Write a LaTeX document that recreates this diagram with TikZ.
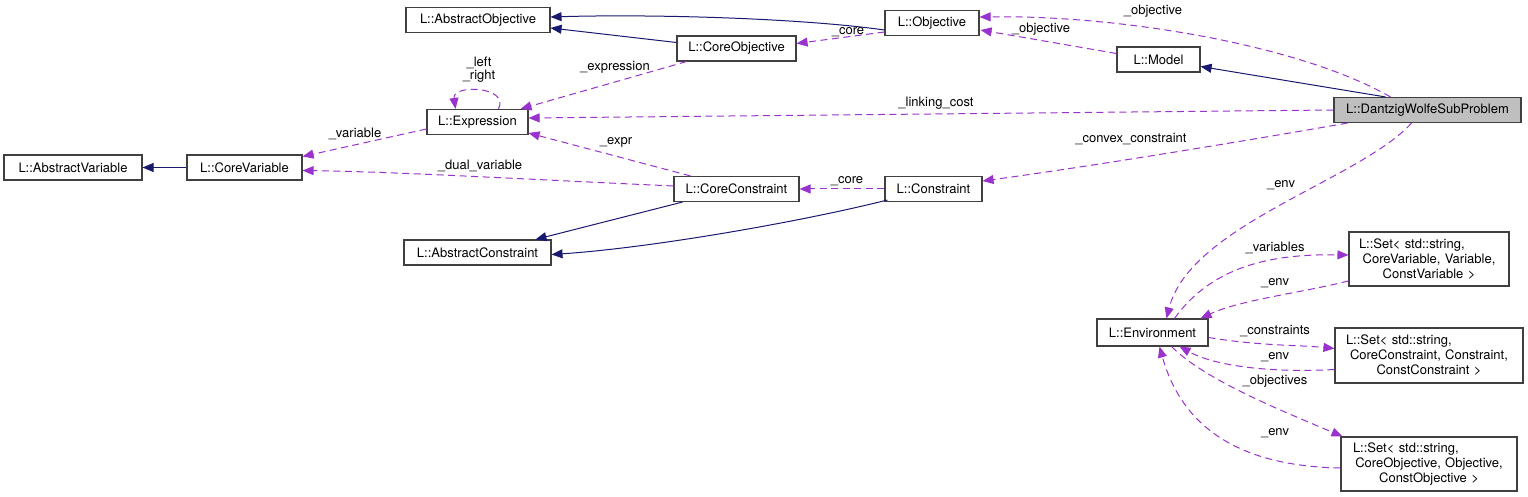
\documentclass[tikz,border=0pt]{standalone}
\usepackage{fontspec}
\setmainfont{TeX Gyre Heros}
\usetikzlibrary{arrows.meta,calc}
\definecolor{inhcol}{HTML}{191970}
\definecolor{usecol}{HTML}{9A32CD}
\definecolor{boxline}{HTML}{404040}
\begin{document}
\begin{tikzpicture}[x=1pt,y=-1pt,
  font=\fontsize{13}{15}\selectfont,
  cls/.style={draw=boxline,line width=1.1pt,fill=white,inner sep=2pt,minimum height=25pt,anchor=center},
  inh/.style={draw=inhcol,line width=1pt,-{Triangle[length=11pt,width=9pt]}},
  use/.style={draw=usecol,line width=1pt,dash pattern=on 7pt off 4.5pt,-{Triangle[length=11pt,width=9pt]}},
  lbl/.style={inner sep=0pt,text=black,align=center}]
\useasboundingbox (0,0) rectangle (1528,497);
% nodes
\node[cls,minimum width=144pt] (absobj) at (478,20) {L::AbstractObjective};
\node[cls,minimum width=94pt] (obj) at (932,23) {L::Objective};
\node[cls,minimum width=119pt] (coreobj) at (736.5,48.5) {L::CoreObjective};
\node[cls,minimum width=83pt] (model) at (1158.5,59.5) {L::Model};
\node[cls,minimum width=101pt] (expr) at (477.5,122) {L::Expression};
\node[cls,minimum width=187pt,fill=black!25] (dw) at (1427.5,110) {L::DantzigWolfeSubProblem};
\node[cls,minimum width=138pt] (absvar) at (73,167.5) {L::AbstractVariable};
\node[cls,minimum width=115pt] (corevar) at (244.5,167.5) {L::CoreVariable};
\node[cls,minimum width=125pt] (corecon) at (736.5,189) {L::CoreConstraint};
\node[cls,minimum width=97pt] (con) at (933.5,189) {L::Constraint};
\node[cls,minimum width=147pt] (abscon) at (477.5,252.5) {L::AbstractConstraint};
\node[cls,minimum width=111pt,minimum height=27pt] (env) at (1152.5,332.5) {L::Environment};
\node[cls,text width=156pt,align=center,minimum height=54pt] (set1) at (1429,259)
  {\makebox[\linewidth][l]{\hspace{8pt}L::Set< std::string,}\\ CoreVariable, Variable,\\ ConstVariable >};
\node[cls,text width=184pt,align=center,minimum height=55pt] (set2) at (1429,355.5)
  {\makebox[\linewidth][l]{\hspace{9pt}L::Set< std::string,}\\ CoreConstraint, Constraint,\\ ConstConstraint >};
\node[cls,text width=172pt,align=center,minimum height=54pt] (set3) at (1429,464)
  {\makebox[\linewidth][l]{\hspace{10pt}L::Set< std::string,}\\ CoreObjective, Objective,\\ ConstObjective >};
% inheritance
\draw[inh] ($(obj.west)+(0,7)$) .. controls (800,18) and (650,14) .. ($(absobj.east)+(0,-3)$);
\draw[inh] ($(coreobj.west)+(0,-6)$) -- ($(absobj.east)+(0,8)$);
\draw[inh] ($(dw.north)+(-42,0)$) -- ($(model.east)+(0,7)$);
\draw[inh] (corevar.west) -- (absvar.east);
\draw[inh] ($(corecon.south)+(-54,0)$) -- ($(abscon.north)+(58,0)$);
\draw[inh] ($(con.west)+(3,11)$) .. controls (800,222) and (650,248) .. ($(abscon.east)+(0,2)$);
% usage
\draw[use] ($(dw.north)+(-37,0)$) .. controls (1300,45) and (1120,15) .. ($(obj.east)+(0,-6)$);
\draw[use] ($(model.west)+(0,-6)$) -- ($(obj.east)+(1,7)$);
\draw[use] ($(obj.west)+(0,9)$) -- ($(coreobj.east)+(0,-5)$);
\draw[use] ($(coreobj.south)+(-50,0)$) -- ($(expr.north)+(43,0)$);
\draw[use] ($(expr.north)+(21,0)$) .. controls (510,86) and (452,84) .. ($(expr.north)+(-22,0)$);
\draw[use] (dw.west) -- ($(expr.east)+(0,-4)$);
\draw[use] ($(expr.west)+(0,7)$) -- ($(corevar.east)+(0,-11)$);
\draw[use] ($(corecon.north)+(-46,0)$) -- ($(expr.east)+(0,11)$);
\draw[use] ($(corecon.west)+(0,-3)$) .. controls (500,178) and (400,172) .. ($(corevar.east)+(0,3)$);
\draw[use] (con.west) -- (corecon.east);
\draw[use] ($(dw.south)+(-80,0)$) .. controls (1250,140) and (1100,165) .. ($(con.east)+(0,-8)$);
\draw[use] ($(dw.south)+(-16,0)$) .. controls (1360,180) and (1190,225) .. ($(env.north)+(14,0)$);
\draw[use] ($(env.north)+(22,0)$) .. controls (1215,262) and (1280,254) .. ($(set1.west)+(0,-4)$);
\draw[use] ($(set1.west)+(0,22)$) .. controls (1300,293) and (1240,300) .. ($(env.north east)+(-8,0)$);
\draw[use] ($(env.east)+(0,5)$) .. controls (1260,346) and (1300,345) .. ($(set2.west)+(0,-7)$);
\draw[use] ($(set2.west)+(0,14)$) .. controls (1270,373) and (1215,366) .. ($(env.south)+(27,0)$);
\draw[use] ($(env.south)+(19,0)$) .. controls (1205,380) and (1280,410) .. ($(set3.north west)+(2,0)$);
\draw[use] ($(set3.west)+(0,4)$) .. controls (1230,466) and (1180,420) .. ($(env.south)+(7,0)$);
% labels
\node[lbl] (l1) at (1153,11) {\_objective};
\node[lbl] (l2) at (1041,29) {\_objective};
\node[lbl] (l3) at (848,32) {\_core};
\node[lbl] (l4) at (615,67) {\_expression};
\node[lbl] (l5) at (479,70) {\_left\\[-2pt]\_right};
\node[lbl] (l6) at (936,103) {\_linking\_cost};
\node[lbl] (l7) at (355,134) {\_variable};
\node[lbl] (l8) at (616,142) {\_expr};
\node[lbl] (l9) at (480,166) {\_dual\_variable};
\node[lbl] (l10) at (847,181) {\_core};
\node[lbl] (l11) at (1131,139) {\_convex\_constraint};
\node[lbl] (l12) at (1281,185) {\_env};
\node[lbl] (l13) at (1275,248) {\_variables};
\node[lbl] (l14) at (1275,283) {\_env};
\node[lbl] (l15) at (1275,331) {\_constraints};
\node[lbl] (l16) at (1275,357) {\_env};
\node[lbl] (l17) at (1275,381) {\_objectives};
\node[lbl] (l18) at (1275,433) {\_env};
\end{tikzpicture}
\end{document}
